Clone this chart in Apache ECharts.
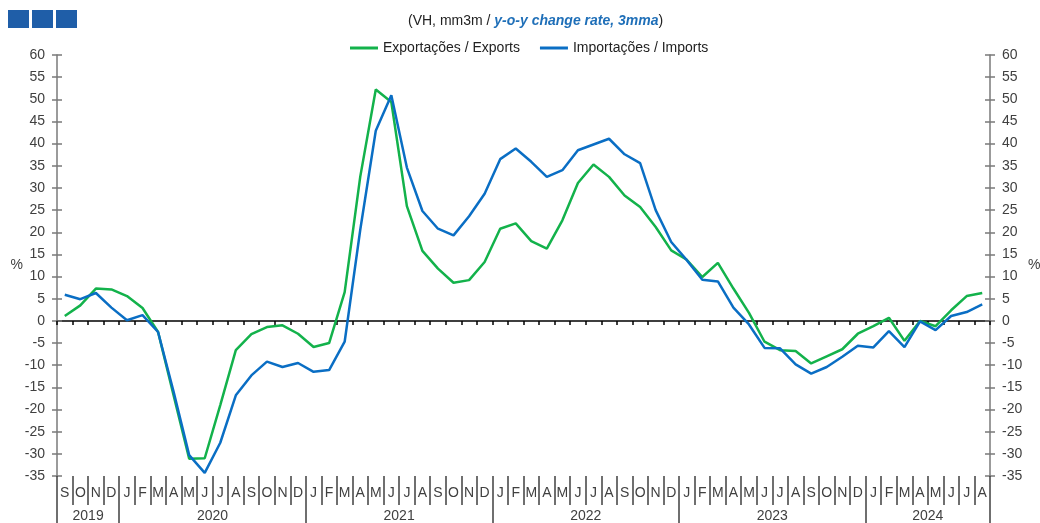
<!DOCTYPE html>
<html>
<head>
<meta charset="utf-8">
<script src="https://cdn.jsdelivr.net/npm/echarts@6/dist/echarts.min.js"></script>
<style>
html,body{margin:0;padding:0;background:#fff;}
#chart{width:1040px;height:523px;}
</style>
</head>
<body>
<div id="chart"></div>
<script>
// ---- Data ----
const monthLabels = ['S','O','N','D',
  'J','F','M','A','M','J','J','A','S','O','N','D',
  'J','F','M','A','M','J','J','A','S','O','N','D',
  'J','F','M','A','M','J','J','A','S','O','N','D',
  'J','F','M','A','M','J','J','A','S','O','N','D',
  'J','F','M','A','M','J','J','A'];
const years = ['2019','2020','2021','2022','2023','2024'];
const monthsPerYear = [4,12,12,12,12,8];
const exportsYoY = [1.1,3.5,7.3,7.1,5.6,2.9,-2.5,-16.8,-31.1,-31.0,-19.0,-6.6,-3.0,-1.4,-1.0,-2.9,
  -5.9,-5.0,6.5,32.5,52.2,49.4,25.9,15.8,11.8,8.6,9.2,13.3,
  20.8,22.0,18.0,16.3,22.7,31.1,35.3,32.5,28.3,25.7,21.2,15.9,
  13.8,9.9,13.1,7.3,1.8,-4.7,-6.6,-6.8,-9.6,-8.0,-6.4,-2.9,
  -1.2,0.7,-4.5,0.0,-1.2,2.4,5.6,6.3];
const importsYoY = [5.9,4.9,6.3,3.0,0.15,1.3,-2.5,-16.0,-30.3,-34.3,-27.5,-16.8,-12.3,-9.2,-10.4,-9.5,
  -11.5,-11.1,-4.7,20.5,42.9,50.9,34.6,24.8,20.8,19.3,23.6,28.7,
  36.5,38.9,35.9,32.5,34.0,38.5,39.8,41.1,37.6,35.6,25.0,17.8,
  13.7,9.3,8.9,3.0,-0.8,-6.1,-6.2,-9.8,-11.9,-10.4,-8.1,-5.6,
  -6.0,-2.3,-5.9,-0.1,-2.1,1.1,2.0,3.7];
const seriesNames = ['Exportações / Exports','Importações / Imports'];
const yMin = -35, yMax = 60, yStep = 5;

// ---- Year axis helpers (half-month positions) ----
const totalMonths = monthLabels.length;
const halfSlots = [];
for (let k = 0; k <= totalMonths * 2; k++) halfSlots.push(String(k));
const yearLabelAt = {};
const yearTickAt = {0: true};
let acc = 0;
years.forEach((y, i) => {
  yearLabelAt[(acc * 2) + monthsPerYear[i]] = y;
  acc += monthsPerYear[i];
  yearTickAt[acc * 2] = true;
});

const FONT = 'Liberation Sans, Arial, sans-serif';
const GREEN = '#13b24b';
const BLUE = '#0a6ec4';
const labelColor = '#404040';

const chart = echarts.init(document.getElementById('chart'), null, {renderer: 'canvas'});

const yBase = {
  type: 'value', min: yMin, max: yMax, interval: yStep,
  splitLine: {show: false}
};

chart.setOption({
  animation: false,
  backgroundColor: '#fff',
  graphic: [
    {type: 'rect', left: 8, top: 10, shape: {width: 21, height: 18}, style: {fill: '#1f5ea8'}},
    {type: 'rect', left: 32, top: 10, shape: {width: 21, height: 18}, style: {fill: '#1f5ea8'}},
    {type: 'rect', left: 56, top: 10, shape: {width: 21, height: 18}, style: {fill: '#1f5ea8'}}
  ],
  title: {
    text: '{a|(VH, mm3m / }{b|y-o-y change rate, 3mma}{a|)}',
    left: 408, top: 14, padding: 0,
    textStyle: {
      fontWeight: 'normal',
      rich: {
        a: {fontFamily: FONT, fontSize: 14, color: '#222', fontWeight: 'normal'},
        b: {fontFamily: FONT, fontSize: 14, color: '#1f6fb8', fontStyle: 'italic', fontWeight: 'bold'}
      }
    }
  },
  legend: {
    top: 41, left: 350, padding: 0,
    itemWidth: 28, itemHeight: 3, itemGap: 20,
    icon: 'rect',
    textStyle: {fontFamily: FONT, fontSize: 14, color: '#222'},
    data: seriesNames
  },
  grid: {left: 57, right: 50, top: 55, bottom: 47, containLabel: false, outerBoundsMode: 'none'},
  xAxis: [
    { // month axis at bottom
      type: 'category', data: monthLabels, boundaryGap: true, position: 'bottom',
      axisLine: {show: false, onZero: false},
      axisTick: {show: true, length: 29, interval: 0, lineStyle: {color: '#404040', width: 1.5}},
      axisLabel: {interval: 0, margin: 10, fontFamily: FONT, fontSize: 14, color: labelColor},
      splitLine: {show: false}
    },
    { // year axis
      type: 'category', data: halfSlots, boundaryGap: false, position: 'bottom',
      axisLine: {show: false, onZero: false},
      axisTick: {show: true, length: 47, interval: (i) => !!yearTickAt[i], lineStyle: {color: '#404040', width: 1.5}},
      axisLabel: {interval: (i) => yearLabelAt[i] !== undefined, formatter: (v, i) => yearLabelAt[i] || '',
        margin: 33, fontFamily: FONT, fontSize: 14, color: labelColor},
      splitLine: {show: false}
    },
    { // zero line
      type: 'category', data: monthLabels, boundaryGap: true, position: 'bottom',
      axisLine: {show: true, onZero: true, lineStyle: {color: '#000', width: 1.5}},
      axisTick: {show: true, length: 4, interval: 0, lineStyle: {color: '#000', width: 1.5}},
      axisLabel: {show: false},
      splitLine: {show: false}
    }
  ],
  yAxis: [
    Object.assign({}, yBase, {
      position: 'left', name: '%', nameLocation: 'middle', nameGap: 34, nameRotate: 0,
      nameMoveOverlap: false,
      nameTextStyle: {fontFamily: FONT, fontSize: 14, color: labelColor},
      axisLine: {show: true, lineStyle: {color: '#7a7a7a', width: 1.5}},
      axisTick: {show: true, length: 5, lineStyle: {color: '#7a7a7a', width: 1.5}},
      axisLabel: {margin: 12, fontFamily: FONT, fontSize: 14, color: labelColor}
    }),
    Object.assign({}, yBase, {
      position: 'left',
      axisLine: {show: false},
      axisTick: {show: true, inside: true, length: 5, lineStyle: {color: '#7a7a7a', width: 1.5}},
      axisLabel: {show: false}
    }),
    Object.assign({}, yBase, {
      position: 'right', name: '%', nameLocation: 'middle', nameGap: 38, nameRotate: 0,
      nameMoveOverlap: false,
      nameTextStyle: {fontFamily: FONT, fontSize: 14, color: labelColor},
      axisLine: {show: true, lineStyle: {color: '#7a7a7a', width: 1.5}},
      axisTick: {show: true, length: 5, lineStyle: {color: '#7a7a7a', width: 1.5}},
      axisLabel: {margin: 12, fontFamily: FONT, fontSize: 14, color: labelColor}
    }),
    Object.assign({}, yBase, {
      position: 'right',
      axisLine: {show: false},
      axisTick: {show: true, inside: true, length: 5, lineStyle: {color: '#7a7a7a', width: 1.5}},
      axisLabel: {show: false}
    })
  ],
  series: [
    {name: seriesNames[0], type: 'line', data: exportsYoY, xAxisIndex: 0, yAxisIndex: 0,
      symbol: 'none', lineStyle: {color: GREEN, width: 2.5}, itemStyle: {color: GREEN}, z: 3},
    {name: seriesNames[1], type: 'line', data: importsYoY, xAxisIndex: 0, yAxisIndex: 0,
      symbol: 'none', lineStyle: {color: BLUE, width: 2.5}, itemStyle: {color: BLUE}, z: 4}
  ]
});
</script>
</body>
</html>
